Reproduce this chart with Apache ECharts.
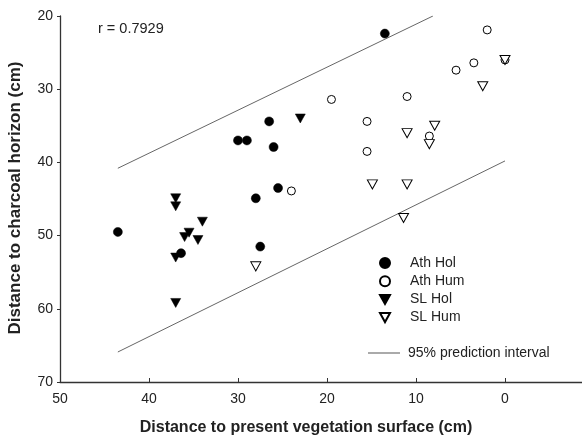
<!DOCTYPE html>
<html>
<head>
<meta charset="utf-8">
<script src="https://cdn.jsdelivr.net/npm/echarts@6/dist/echarts.min.js"></script>
<style>html,body{margin:0;padding:0;background:#fff}#c{width:582px;height:440px}</style>
</head>
<body>
<div id="c"></div>
<script>
// Distance to present vegetation surface (x, cm) and distance to charcoal horizon (y, cm)
var athHolX = [13.5, 43.5, 26.5, 30.0, 29.0, 26.0, 25.5, 28.0, 27.5, 36.4];
var athHolY = [22.4, 49.5, 34.4, 37.0, 37.0, 37.9, 43.5, 44.9, 51.5, 52.4];
var athHumX = [24.0, 2.0, 0.0, 3.5, 5.5, 19.5, 11.0, 15.5, 15.5, 8.5];
var athHumY = [43.9, 21.9, 26.0, 26.4, 27.4, 31.4, 31.0, 34.4, 38.5, 36.4];
var slHolX = [23.0, 37.0, 37.0, 34.0, 35.5, 36.0, 34.5, 37.0, 37.0];
var slHolY = [34.0, 44.9, 46.0, 48.1, 49.6, 50.2, 50.6, 53.0, 59.2];
var slHumX = [0.0, 2.5, 7.9, 11.0, 8.5, 14.9, 11.0, 11.4, 28.0];
var slHumY = [26.0, 29.6, 35.0, 36.0, 37.5, 43.0, 43.0, 47.6, 54.2];
var upperX = [43.5, 8.1];
var upperY = [40.8, 20.0];
var lowerX = [43.5, 0.0];
var lowerY = [65.9, 39.8];
var xTicks = [50, 40, 30, 20, 10, 0];
var yTicks = [20, 30, 40, 50, 60, 70];
var rText = 'r = 0.7929';
var seriesNames = ['Ath Hol', 'Ath Hum', 'SL Hol', 'SL Hum'];
var lineName = '95% prediction interval';

function pairs(xs, ys) { return xs.map(function (x, i) { return [x, ys[i]]; }); }

var FONT = '"Liberation Sans", Arial, sans-serif';
var tri = 'path://M0,0 L10,0 L5,9 Z';

var chart = echarts.init(document.getElementById('c'), null, {renderer: 'canvas'});
var option = {
  animation: false,
  backgroundColor: '#fff',
  textStyle: {fontFamily: FONT},
  grid: {left: 60, top: 16, bottom: 58, right: -12, containLabel: false, outerBoundsMode: 'none'},
  xAxis: {
    type: 'value', inverse: true, min: -10, max: 50, interval: 10,
    axisLine: {show: true, onZero: false, lineStyle: {color: '#333', width: 1.3}},
    axisTick: {show: true, inside: true, length: 4, lineStyle: {color: '#333'}},
    axisLabel: {color: '#222', fontSize: 14, fontFamily: FONT, margin: 10,
      formatter: function (v) { return xTicks.indexOf(v) >= 0 ? String(v) : ''; }},
    splitLine: {show: false}
  },
  yAxis: {
    type: 'value', inverse: true, min: 20, max: 70, interval: 10,
    axisLine: {show: true, onZero: false, lineStyle: {color: '#333', width: 1.3}},
    axisTick: {show: true, inside: false, length: 3, lineStyle: {color: '#333'}},
    axisLabel: {color: '#222', fontSize: 14, fontFamily: FONT, margin: 7,
      formatter: function (v) { return yTicks.indexOf(v) >= 0 ? String(v) : ''; }},
    splitLine: {show: false}
  },
  legend: [{
    data: seriesNames, orient: 'vertical', left: 379, top: 256,
    itemWidth: 10, itemHeight: 10, itemGap: 4.2,
    textStyle: {fontSize: 14, color: '#222', fontFamily: FONT, padding: [0, 0, 0, 15]},
    padding: 0
  }, {
    data: [{name: lineName, icon: 'rect', itemStyle: {color: '#555', opacity: 1}}],
    orient: 'vertical', left: 368, top: 346,
    itemWidth: 32, itemHeight: 1, itemGap: 8,
    textStyle: {fontSize: 14, color: '#222', fontFamily: FONT, padding: [0, 0, 0, 3]},
    padding: 0
  }],
  graphic: [
    {type: 'text', left: 98, top: 21, style: {text: rText, font: '14.5px ' + FONT, fill: '#222'}},
    {type: 'text', x: 306, y: 428, style: {text: 'Distance to present vegetation surface (cm)', font: 'bold 16px ' + FONT, fill: '#222', textAlign: 'center', textVerticalAlign: 'middle'}},
    {type: 'text', x: 15, y: 198, rotation: Math.PI / 2, style: {text: 'Distance to charcoal horizon (cm)', font: 'bold 17px ' + FONT, fill: '#222', textAlign: 'center', textVerticalAlign: 'middle'}}
  ],
  series: [
    {name: seriesNames[0], type: 'scatter', data: pairs(athHolX, athHolY), symbol: 'circle', symbolSize: 9,
      itemStyle: {color: '#000', borderColor: '#000', borderWidth: 0.5, opacity: 1}, z: 3},
    {name: seriesNames[1], type: 'scatter', data: pairs(athHumX, athHumY), symbol: 'circle', symbolSize: 8,
      itemStyle: {color: '#fff', borderColor: '#000', borderWidth: 1, opacity: 1}, z: 4},
    {name: seriesNames[2], type: 'scatter', data: pairs(slHolX, slHolY), symbol: tri, symbolSize: [10, 9],
      itemStyle: {color: '#000', borderColor: '#000', borderWidth: 0.5, opacity: 1}, z: 3},
    {name: seriesNames[3], type: 'scatter', data: pairs(slHumX, slHumY), symbol: tri, symbolSize: [10, 9],
      itemStyle: {color: '#fff', borderColor: '#000', borderWidth: 1, opacity: 1}, z: 5},
    {name: lineName, type: 'line', data: pairs(upperX, upperY), symbol: 'none', showSymbol: false,
      lineStyle: {color: '#555', width: 0.9}, itemStyle: {color: '#555'}, z: 2},
    {name: lineName, type: 'line', data: pairs(lowerX, lowerY), symbol: 'none', showSymbol: false,
      lineStyle: {color: '#555', width: 0.9}, itemStyle: {color: '#555'}, z: 2}
  ]
};
chart.setOption(option);
</script>
</body>
</html>
